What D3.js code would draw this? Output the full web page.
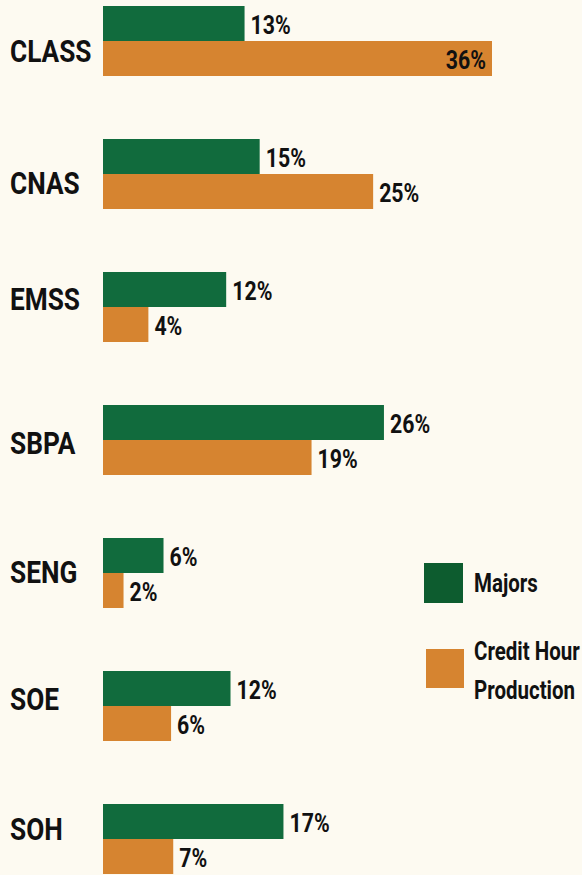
<!DOCTYPE html>
<html>
<head>
<meta charset="utf-8">
<script src="https://cdn.jsdelivr.net/npm/d3@7"></script>
<style>
  html, body { margin: 0; padding: 0; background: #fdfaf1; }
  svg { display: block; }
  text { font-family: Roboto, "Noto Sans", sans-serif; font-weight: 700; fill: #111; }
</style>
</head>
<body>
<script>
const width = 582; //Size of the window.
const height = 875;

const colleges = ["CLASS", "CNAS", "EMSS", "SBPA", "SENG", "SOE", "SOH"]; //Categories.
const majors = [13.1, 14.5, 11.4, 26.0, 5.6, 11.8, 16.7]; //Percent of majors (bar lengths).
const creditHours = [36.0, 25.0, 4.2, 19.3, 1.9, 6.3, 6.5]; //Percent of credit hour production.
const majorsLabels = ["13%", "15%", "12%", "26%", "6%", "12%", "17%"]; //Printed labels.
const creditLabels = ["36%", "25%", "4%", "19%", "2%", "6%", "7%"];
const seriesNames = ["Majors", "Credit Hour Production"];

const barColors = ["#116b3d", "#d68430"];
const legendColors = ["#0d5c2f", "#d68430"];
const squeeze = 0.82; //Narrows the font to look condensed.
const nameDrop = [56, 55, 38, 49, 45, 39, 36]; //Hand placed baselines of college names (from band top).

let svg = d3.select("body").append("svg")
  .attr("width", width)
  .attr("height", height);

let rows = colleges.map(function(c, i) {
  return {
    college: c,
    drop: nameDrop[i],
    bars: [
      { v: majors[i], label: majorsLabels[i], i: 0 },
      { v: creditHours[i], label: creditLabels[i], i: 1 }
    ]
  };
});

let yScale = d3.scaleBand() //One band per college.
  .domain(colleges)
  .range([6, 874])
  .paddingInner(63 / 133)
  .paddingOuter(0);

let subScale = d3.scaleBand() //Two bars inside each band.
  .domain([0, 1])
  .range([0, yScale.bandwidth()]);

let xScale = d3.scaleLinear()
  .domain([0, 36])
  .range([103, 492]);

let maxValue = d3.max(creditHours.concat(majors));

let groups = svg.selectAll("g.college")
  .data(rows)
  .enter()
  .append("g")
  .attr("class", "college")
  .attr("transform", function(d) { return "translate(0," + yScale(d.college) + ")"; });

//College names on the left.
groups.append("text")
  .attr("transform", function(d) { return "translate(10," + d.drop + ") scale(" + squeeze + ",1)"; })
  .style("font-size", "32px")
  .text(function(d) { return d.college; });

let bars = groups.selectAll("g.bar")
  .data(function(d) { return d.bars; })
  .enter()
  .append("g")
  .attr("class", "bar");

bars.append("rect")
  .attr("x", xScale(0))
  .attr("y", function(d) { return subScale(d.i); })
  .attr("width", function(d) { return xScale(d.v) - xScale(0); })
  .attr("height", subScale.bandwidth())
  .attr("fill", function(d) { return barColors[d.i]; });

//Value labels, inside the longest bar.
bars.append("text")
  .attr("transform", function(d) {
    let inside = d.v === maxValue;
    let x = inside ? xScale(d.v) - 6 : xScale(d.v) + 6;
    let y = subScale(d.i) + subScale.bandwidth() / 2 + 10;
    return "translate(" + x + "," + y + ") scale(" + squeeze + ",1)";
  })
  .attr("text-anchor", function(d) { return d.v === maxValue ? "end" : "start"; })
  .style("font-size", "26px")
  .text(function(d) { return d.label; });

//Legend.
let legend = svg.append("g").attr("transform", "translate(424,563)");

legend.append("rect")
  .attr("x", 0).attr("y", 0)
  .attr("width", 39).attr("height", 40)
  .attr("fill", legendColors[0]);

legend.append("text")
  .attr("transform", "translate(50,29) scale(" + squeeze + ",1)")
  .style("font-size", "25px")
  .text(seriesNames[0]);

legend.append("rect")
  .attr("x", 2).attr("y", 86)
  .attr("width", 38).attr("height", 39)
  .attr("fill", legendColors[1]);

let chp = legend.append("text")
  .attr("transform", "translate(50,97) scale(" + squeeze + ",1)")
  .style("font-size", "25px");
chp.append("tspan").attr("x", 0).attr("y", 0).text("Credit Hour");
chp.append("tspan").attr("x", 0).attr("y", 39).text("Production");
</script>
</body>
</html>
